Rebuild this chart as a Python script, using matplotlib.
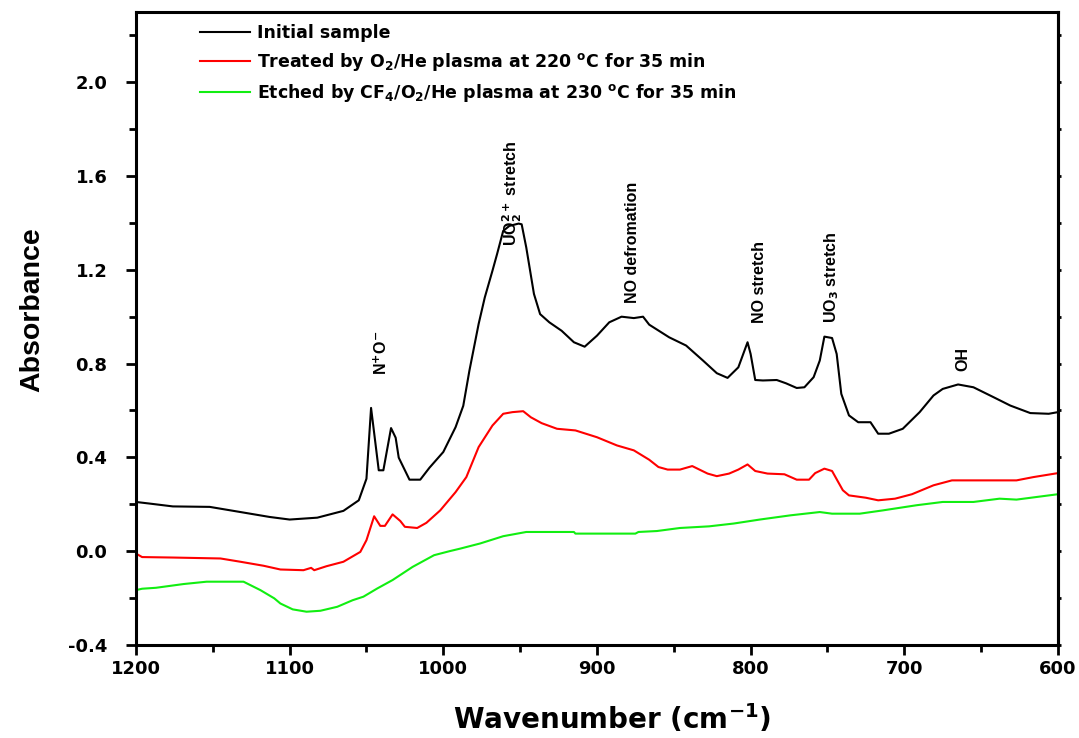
import numpy as np
import matplotlib
matplotlib.use('Agg')
import matplotlib.pyplot as plt
from matplotlib.ticker import MultipleLocator, FormatStrFormatter

plt.rcParams['font.family'] = ['Liberation Sans', 'DejaVu Sans']
plt.rcParams['font.weight'] = 'bold'
plt.rcParams['mathtext.fontset'] = 'custom'
plt.rcParams['mathtext.rm'] = 'DejaVu Sans:bold'
plt.rcParams['mathtext.it'] = 'DejaVu Sans:bold'
plt.rcParams['mathtext.bf'] = 'DejaVu Sans:bold'

# Initial sample
w_init = [1200, 1191, 1176, 1152, 1132, 1113, 1100, 1082, 1065, 1055,
          1050, 1047, 1042, 1039, 1034, 1031, 1029, 1022, 1015, 1009,
          1000, 992, 987, 983, 977, 973, 968, 965, 961, 957,
          951, 949, 946, 941, 937, 931, 923, 915, 908, 900,
          892, 884, 876, 870, 866, 853, 842, 831, 822, 815,
          808, 802, 800, 797, 792, 783, 777, 770, 765, 759,
          755, 752, 747, 744, 741, 736, 730, 722, 717, 710,
          701, 690, 681, 675, 665, 655, 642, 631, 618, 606, 600]
a_init = [0.21, 0.203, 0.191, 0.189, 0.167, 0.146, 0.135, 0.143, 0.172, 0.217,
          0.309, 0.611, 0.345, 0.345, 0.525, 0.484, 0.399, 0.305, 0.305, 0.356,
          0.423, 0.529, 0.62, 0.77, 0.969, 1.082, 1.196, 1.267, 1.366, 1.387,
          1.397, 1.394, 1.295, 1.097, 1.011, 0.976, 0.94, 0.891, 0.872, 0.919,
          0.976, 1.0, 0.994, 1.0, 0.966, 0.912, 0.877, 0.813, 0.759, 0.739,
          0.784, 0.891, 0.841, 0.73, 0.728, 0.73, 0.716, 0.696, 0.699, 0.742,
          0.813, 0.915, 0.909, 0.841, 0.671, 0.579, 0.55, 0.55, 0.501, 0.501,
          0.522, 0.593, 0.664, 0.692, 0.711, 0.699, 0.657, 0.621, 0.589, 0.586, 0.593]

# O2/He plasma treated
w_o2 = [1200, 1196, 1176, 1145, 1132, 1117, 1106, 1091, 1086, 1084,
        1076, 1065, 1054, 1050, 1045, 1041, 1038, 1033, 1028, 1025,
        1017, 1011, 1002, 992, 985, 977, 968, 961, 955, 948,
        943, 936, 926, 914, 900, 887, 876, 866, 860, 854,
        846, 838, 828, 822, 814, 808, 802, 797, 789, 778,
        770, 762, 758, 752, 747, 743, 740, 736, 725, 717,
        706, 695, 681, 669, 627, 616, 600]
a_o2 = [-0.01, -0.025, -0.027, -0.031, -0.045, -0.062, -0.078, -0.081, -0.071, -0.081,
        -0.064, -0.045, -0.003, 0.047, 0.149, 0.108, 0.108, 0.157, 0.129, 0.104,
        0.099, 0.121, 0.174, 0.252, 0.316, 0.444, 0.536, 0.586, 0.593, 0.597,
        0.571, 0.546, 0.522, 0.515, 0.486, 0.451, 0.43, 0.39, 0.359, 0.348,
        0.348, 0.363, 0.331, 0.32, 0.331, 0.348, 0.37, 0.342, 0.331, 0.328,
        0.305, 0.305, 0.333, 0.352, 0.342, 0.295, 0.26, 0.238, 0.228, 0.217,
        0.224, 0.243, 0.281, 0.302, 0.302, 0.316, 0.333]

# CF4/O2/He plasma etched
w_cf4 = [1200, 1196, 1187, 1169, 1154, 1130, 1119, 1110, 1106, 1098,
         1089, 1080, 1069, 1059, 1052, 1043, 1033, 1020, 1006, 996,
         989, 976, 961, 946, 915, 914, 875, 873, 861, 846,
         827, 811, 794, 774, 755, 747, 729, 714, 692, 675,
         655, 638, 627, 600]
a_cf4 = [-0.166, -0.16, -0.156, -0.14, -0.13, -0.13, -0.166, -0.201, -0.223, -0.248,
         -0.258, -0.254, -0.237, -0.209, -0.194, -0.159, -0.123, -0.067, -0.017, 0.0,
         0.011, 0.033, 0.064, 0.082, 0.082, 0.075, 0.075, 0.082, 0.086, 0.099,
         0.106, 0.118, 0.135, 0.153, 0.167, 0.16, 0.16, 0.174, 0.196, 0.21,
         0.21, 0.224, 0.22, 0.243]

labels = ['Initial sample',
          r'Treated by O$_2$/He plasma at 220 $^{\rm o}$C for 35 min',
          r'Etched by CF$_4$/O$_2$/He plasma at 230 $^{\rm o}$C for 35 min']

# band labels: text, wavenumber, absorbance of text bottom
bands = [(r'N$^{+}$O$^{-}$', 1040, 0.75),
         (r'UO$_2^{2+}$ stretch', 955, 1.30),
         ('NO defromation', 877, 1.06),
         ('NO stretch', 794, 0.975),
         (r'UO$_3$ stretch', 747, 0.975),
         ('OH', 662, 0.77)]

wide = 'DejaVu Sans'

fig = plt.figure(figsize=(10.79, 7.38), dpi=100)
ax = fig.add_axes([0.126, 0.126, 0.8545, 0.858])

ax.plot(w_init, a_init, color='black', lw=1.5, label=labels[0])
ax.plot(w_o2, a_o2, color='#ff0000', lw=1.5, label=labels[1])
ax.plot(w_cf4, a_cf4, color='#11ee11', lw=1.5, label=labels[2])

for txt, x, y in bands:
    ax.text(x, y, txt, rotation=90, ha='center', va='bottom', fontsize=11.5, fontweight='bold')

ax.set_xlim(1200, 600)
ax.set_ylim(-0.4, 2.3)
ax.xaxis.set_major_locator(MultipleLocator(100))
ax.xaxis.set_minor_locator(MultipleLocator(50))
ax.yaxis.set_major_locator(MultipleLocator(0.4))
ax.yaxis.set_minor_locator(MultipleLocator(0.2))
ax.yaxis.set_major_formatter(FormatStrFormatter('%.1f'))

for s in ax.spines.values():
    s.set_linewidth(2.2)
ax.tick_params(which='major', length=7.5, width=2, labelsize=13, direction='out')
ax.tick_params(which='minor', length=5, width=2, direction='out')
ax.tick_params(axis='y', which='both', pad=13)
for lab in ax.get_xticklabels() + ax.get_yticklabels():
    lab.set_fontweight('bold')
    lab.set_fontfamily(wide)

# tiny ticks on the right spine
sec = ax.secondary_yaxis('right')
sec.yaxis.set_major_locator(MultipleLocator(0.2))
sec.tick_params(length=2, width=2, labelright=False)
sec.spines['right'].set_linewidth(2.2)

ax.set_xlabel(r'Wavenumber (cm$^{-1}$)', fontsize=20, fontweight='bold', family=wide)
ax.xaxis.set_label_coords(0.516, -0.09)
ax.set_ylabel('Absorbance', fontsize=20.5, fontweight='bold')
ax.yaxis.set_label_coords(-0.098, 0.529)

leg = ax.legend(loc='upper left', bbox_to_anchor=(0.053, 1.005), frameon=False,
                prop={'family': wide, 'weight': 'bold', 'size': 12.5},
                handlelength=2.85, handletextpad=0.38, labelspacing=0.5)

fig.savefig('out.png', dpi=100)
